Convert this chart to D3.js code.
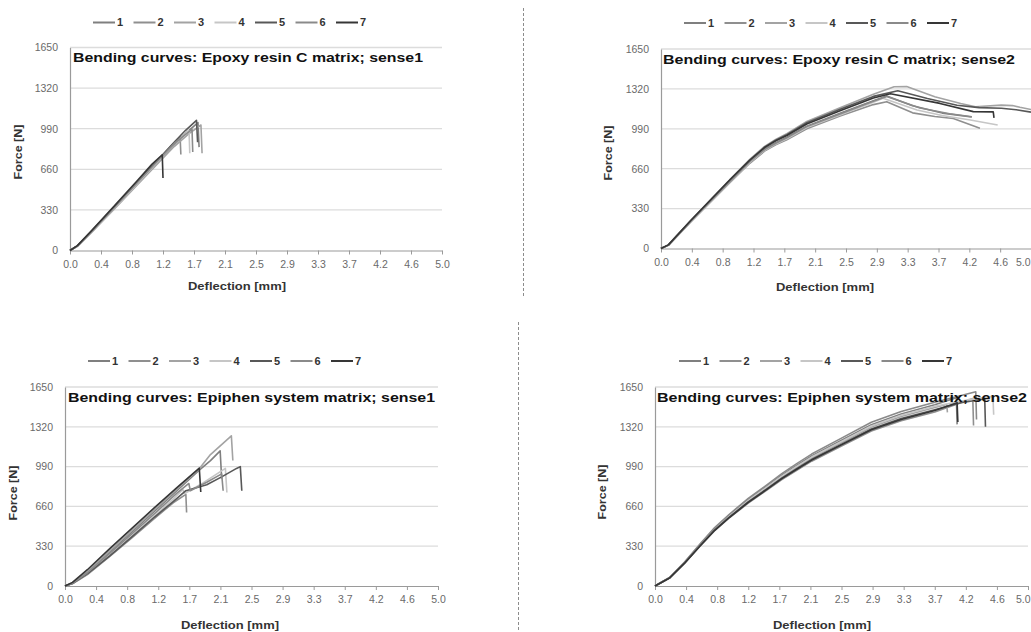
<!DOCTYPE html>
<html>
<head>
<meta charset="utf-8">
<script src="https://cdn.jsdelivr.net/npm/d3@7/dist/d3.min.js"></script>
<style>
  html, body { margin: 0; padding: 0; background: #fff; }
  svg { display: block; }
</style>
</head>
<body>
<svg id="chart" width="1031" height="632"></svg>
<script>
// ---------------- DATA ----------------
const seriesNames = ["1", "2", "3", "4", "5", "6", "7"];
const seriesColors = ["#7f7f7f", "#8f8f8f", "#a3a3a3", "#c6c6c6", "#585858", "#8a8a8a", "#363636"];
const xTickLabels = ["0.0", "0.4", "0.8", "1.2", "1.7", "2.1", "2.5", "2.9", "3.3", "3.7", "4.2", "4.6", "5.0"];
const yTicks = [0, 330, 660, 990, 1320, 1650];
const titles = [
  "Bending curves: Epoxy resin C matrix; sense1",
  "Bending curves: Epoxy resin C matrix; sense2",
  "Bending curves: Epiphen system matrix; sense1",
  "Bending curves: Epiphen system matrix; sense2"
];
const xAxisTitle = "Deflection [mm]";
const yAxisTitle = "Force [N]";

// Epoxy resin C matrix, sense1 : [deflection mm, force N]
const epoxySense1 = [
  [[0,0],[0.1,38],[0.3,160],[0.6,350],[0.9,545],[1.2,735],[1.4,860],[1.55,950],[1.72,1040],[1.735,840]],
  [[0,0],[0.1,36],[0.3,158],[0.6,350],[0.9,545],[1.2,740],[1.35,845],[1.48,925],[1.49,780]],
  [[0,0],[0.1,34],[0.3,152],[0.6,340],[0.9,530],[1.2,720],[1.4,845],[1.6,950],[1.76,1020],[1.775,790]],
  [[0,0],[0.1,35],[0.3,155],[0.6,345],[0.9,540],[1.2,735],[1.4,870],[1.6,975],[1.61,790]],
  [[0,0],[0.1,40],[0.3,165],[0.6,360],[0.9,555],[1.2,750],[1.4,880],[1.55,975],[1.7,1058],[1.715,880]],
  [[0,0],[0.1,37],[0.3,160],[0.6,352],[0.9,548],[1.2,742],[1.4,870],[1.64,985],[1.65,800]],
  [[0,0],[0.1,40],[0.3,168],[0.6,365],[0.9,565],[1.1,700],[1.24,778],[1.25,590]]
];

// Epoxy resin C matrix, sense2
const epoxySense2 = [
  [[0,0],[0.1,28],[0.4,225],[0.93,558],[1.2,720],[1.4,822],[1.55,875],[1.7,920],[1.97,1012],[2.42,1118],[2.87,1222],[3.05,1262],[3.4,1180],[3.8,1120],[4.2,1088]],
  [[0,0],[0.1,26],[0.4,218],[0.93,545],[1.2,705],[1.4,805],[1.55,858],[1.7,900],[1.97,990],[2.42,1095],[2.87,1190],[3.05,1214],[3.4,1122],[3.7,1092],[3.95,1075],[4.31,995]],
  [[0,0],[0.1,30],[0.4,232],[0.93,570],[1.2,738],[1.4,845],[1.55,902],[1.7,950],[1.97,1050],[2.42,1165],[2.87,1275],[3.15,1338],[3.32,1340],[3.7,1255],[4.05,1200],[4.25,1172],[4.6,1186],[4.75,1182],[4.85,1168],[5.0,1150]],
  [[0,0],[0.1,27],[0.4,220],[0.93,550],[1.2,712],[1.4,812],[1.55,865],[1.7,908],[1.97,1000],[2.42,1105],[2.87,1210],[3.0,1242],[3.46,1145],[3.8,1100],[4.18,1063],[4.55,1021]],
  [[0,0],[0.1,30],[0.4,230],[0.93,566],[1.2,732],[1.4,838],[1.55,895],[1.7,942],[1.97,1040],[2.42,1152],[2.87,1258],[3.2,1305],[3.6,1240],[4.0,1185],[4.3,1165],[4.6,1160],[4.8,1148],[5.0,1128]],
  [[0,0],[0.1,28],[0.4,224],[0.93,555],[1.2,718],[1.4,818],[1.55,870],[1.7,915],[1.97,1008],[2.42,1112],[2.87,1218],[3.05,1258],[3.5,1162],[3.9,1115],[4.2,1090]],
  [[0,0],[0.1,30],[0.4,230],[0.93,566],[1.2,730],[1.4,835],[1.55,890],[1.7,935],[1.97,1030],[2.42,1140],[2.87,1245],[3.1,1280],[3.77,1200],[4.22,1132],[4.49,1130],[4.5,1080]]
];

// Epiphen system matrix, sense1
const epiphenSense1 = [
  [[0,0],[0.1,22],[0.3,115],[0.6,280],[0.9,450],[1.2,620],[1.5,790],[1.8,960],[1.95,1040],[2.08,1120],[2.1,890]],
  [[0,0],[0.1,18],[0.3,95],[0.6,245],[0.9,400],[1.2,560],[1.45,690],[1.62,760],[1.63,610]],
  [[0,0],[0.1,25],[0.3,120],[0.6,292],[0.9,462],[1.2,632],[1.5,802],[1.8,972],[1.95,1090],[2.23,1245],[2.25,1040]],
  [[0,0],[0.1,20],[0.3,100],[0.6,255],[0.9,415],[1.2,580],[1.45,720],[1.58,800],[1.6,765],[1.85,855],[2.15,975],[2.17,775]],
  [[0,0],[0.1,20],[0.3,100],[0.6,250],[0.9,410],[1.2,572],[1.45,700],[1.62,790],[1.9,840],[2.1,905],[2.3,975],[2.35,990],[2.37,790]],
  [[0,0],[0.1,22],[0.3,110],[0.6,270],[0.9,435],[1.2,600],[1.5,770],[1.66,850],[1.68,790],[1.9,860],[2.1,930],[2.12,790]],
  [[0,0],[0.1,30],[0.3,135],[0.6,310],[0.9,480],[1.2,650],[1.5,815],[1.8,978],[1.82,780]]
];

// Epiphen system matrix, sense2
const epiphenSense2 = [
  [[0,0],[0.2,71],[0.4,198],[0.6,340],[0.8,477],[1.0,589],[1.25,716],[1.5,827],[1.7,919],[1.9,1000],[2.1,1078],[2.5,1208],[2.9,1338],[3.3,1426],[3.75,1502],[4.04,1560],[4.05,1340]],
  [[0,0],[0.2,68],[0.4,190],[0.6,327],[0.8,458],[1.0,566],[1.25,687],[1.5,795],[1.7,882],[1.9,960],[2.1,1035],[2.5,1160],[2.9,1285],[3.3,1370],[3.75,1443],[4.26,1555],[4.27,1330]],
  [[0,0],[0.2,70],[0.4,195],[0.6,335],[0.8,470],[1.0,580],[1.25,705],[1.5,815],[1.7,905],[1.9,985],[2.1,1062],[2.5,1190],[2.9,1318],[3.3,1405],[3.75,1480],[3.91,1505],[3.92,1440]],
  [[0,0],[0.2,70],[0.4,196],[0.6,337],[0.8,473],[1.0,584],[1.25,710],[1.5,821],[1.7,911],[1.9,992],[2.1,1069],[2.5,1198],[2.9,1327],[3.3,1415],[3.75,1490],[4.2,1545],[4.53,1572],[4.54,1420]],
  [[0,0],[0.2,69],[0.4,193],[0.6,331],[0.8,464],[1.0,573],[1.25,697],[1.5,805],[1.7,894],[1.9,973],[2.1,1049],[2.5,1176],[2.9,1302],[3.3,1388],[3.75,1462],[4.1,1520],[4.42,1550],[4.43,1320]],
  [[0,0],[0.2,72],[0.4,201],[0.6,345],[0.8,484],[1.0,597],[1.25,726],[1.5,839],[1.7,932],[1.9,1015],[2.1,1094],[2.5,1226],[2.9,1358],[3.3,1447],[3.75,1524],[4.3,1610],[4.31,1380]],
  [[0,0],[0.2,69],[0.4,192],[0.6,329],[0.8,462],[1.0,570],[1.25,693],[1.5,801],[1.7,890],[1.9,968],[2.1,1044],[2.5,1170],[2.9,1296],[3.3,1381],[3.75,1455],[4.05,1520],[4.06,1360]]
];

const panelData = [epoxySense1, epoxySense2, epiphenSense1, epiphenSense2];

// ---------------- LAYOUT ----------------
const layouts = [
  { x0: 70,  x1: 442,  yTop: 47.5, y0: 250.5, legX: 93,  legY: 22.5, tX: 73,  tY: 57,  tW: 350, fX: 18,  fY: 152, dX: 237, dY: 286 },
  { x0: 661, x1: 1031, yTop: 49,   y0: 248.5, legX: 684, legY: 23,   tX: 663, tY: 59,  tW: 352, fX: 608, fY: 153, dX: 825, dY: 287 },
  { x0: 65,  x1: 438,  yTop: 387,  y0: 586,   legX: 88,  legY: 361,  tX: 68,  tY: 397, tW: 367, fX: 13,  fY: 493, dX: 230, dY: 625 },
  { x0: 655, x1: 1028, yTop: 387,  y0: 586,   legX: 679, legY: 361,  tX: 657, tY: 397, tW: 370, fX: 602, fY: 492, dX: 822, dY: 625 }
];

const svg = d3.select("#chart");
svg.append("rect").attr("width", 1031).attr("height", 632).attr("fill", "#fff");

// dashed separators
svg.append("line").attr("x1", 523.5).attr("x2", 523.5).attr("y1", 8).attr("y2", 296)
  .attr("stroke", "#8c8c8c").attr("stroke-width", 1).attr("stroke-dasharray", "3,2");
svg.append("line").attr("x1", 518.5).attr("x2", 518.5).attr("y1", 322).attr("y2", 632)
  .attr("stroke", "#8c8c8c").attr("stroke-width", 1).attr("stroke-dasharray", "3,2");

const tickFont = "'Liberation Sans', Arial, sans-serif";
const xTickValues = xTickLabels.map((_, i) => i * 5 / (xTickLabels.length - 1));

layouts.forEach((L, p) => {
  const g = svg.append("g");
  const x = d3.scaleLinear().domain([0, 5]).range([L.x0, L.x1]);
  const y = d3.scaleLinear().domain([0, 1650]).range([L.y0, L.yTop]);

  // gridlines
  g.append("g").selectAll("line").data(yTicks.filter(d => d > 0)).join("line")
    .attr("x1", L.x0).attr("x2", L.x1)
    .attr("y1", d => y(d)).attr("y2", d => y(d))
    .attr("stroke", "#dcdcdc").attr("stroke-width", 1.3);

  // y axis
  const ya = g.append("g").attr("transform", `translate(${L.x0},0)`)
    .call(d3.axisLeft(y).tickValues(yTicks).tickSize(0).tickPadding(12).tickFormat(d3.format("d")));
  ya.select(".domain").attr("stroke", "#9a9a9a").attr("stroke-width", 1.2);
  ya.selectAll("text").attr("fill", "#6a6a6a").style("font-family", tickFont).style("font-size", "10.5px");

  // x axis
  const xa = g.append("g").attr("transform", `translate(0,${L.y0})`)
    .call(d3.axisBottom(x).tickValues(xTickValues).tickSizeInner(4).tickSizeOuter(0).tickPadding(6)
      .tickFormat((d, i) => xTickLabels[i]));
  xa.select(".domain").attr("stroke", "#9a9a9a").attr("stroke-width", 1.2);
  xa.selectAll(".tick line").attr("stroke", "#9a9a9a");
  xa.selectAll("text").attr("fill", "#6a6a6a").style("font-family", tickFont).style("font-size", "10.5px");
  // keep the last label inside the page when the plot reaches the right edge
  if (L.x1 > 1015) {
    xa.selectAll(".tick").filter((d, i) => i === xTickLabels.length - 1)
      .select("text").attr("text-anchor", "end").attr("x", 1030 - L.x1);
  }

  // series
  const line = d3.line().x(d => x(d[0])).y(d => y(d[1]));
  g.append("g").selectAll("path").data(panelData[p]).join("path")
    .attr("d", line)
    .attr("fill", "none")
    .attr("stroke", (d, i) => seriesColors[i])
    .attr("stroke-width", 1.6)
    .attr("stroke-linejoin", "round");

  // title
  g.append("text").attr("x", L.tX).attr("y", L.tY).attr("dy", "0.35em")
    .attr("textLength", L.tW).attr("lengthAdjust", "spacingAndGlyphs")
    .style("font-family", "'Liberation Sans', Arial, sans-serif").style("font-weight", "bold")
    .style("font-size", "13.5px").attr("fill", "#111").text(titles[p]);

  // axis titles
  g.append("text").attr("x", L.dX).attr("y", L.dY).attr("dy", "0.35em").attr("text-anchor", "middle")
    .attr("textLength", 98).attr("lengthAdjust", "spacingAndGlyphs")
    .style("font-family", "'Liberation Sans', Arial, sans-serif").style("font-weight", "bold")
    .style("font-size", "10.5px").attr("fill", "#333").text(xAxisTitle);
  g.append("text").attr("transform", `translate(${L.fX},${L.fY}) rotate(-90)`)
    .attr("dy", "0.35em").attr("text-anchor", "middle")
    .attr("textLength", 55).attr("lengthAdjust", "spacingAndGlyphs")
    .style("font-family", "'Liberation Sans', Arial, sans-serif").style("font-weight", "bold")
    .style("font-size", "10.5px").attr("fill", "#333").text(yAxisTitle);

  // legend
  const leg = g.append("g").attr("transform", `translate(${L.legX},${L.legY})`);
  const item = leg.selectAll("g").data(seriesNames).join("g")
    .attr("transform", (d, i) => `translate(${i * 40.5},0)`);
  item.append("line").attr("x1", 0).attr("x2", 22).attr("y1", 0).attr("y2", 0)
    .attr("stroke", (d, i) => seriesColors[i]).attr("stroke-width", 2);
  item.append("text").attr("x", 24).attr("dy", "0.36em")
    .style("font-family", "'Liberation Sans', Arial, sans-serif").style("font-weight", "bold")
    .style("font-size", "11px").attr("fill", "#333").text(d => d);
});
</script>
</body>
</html>
